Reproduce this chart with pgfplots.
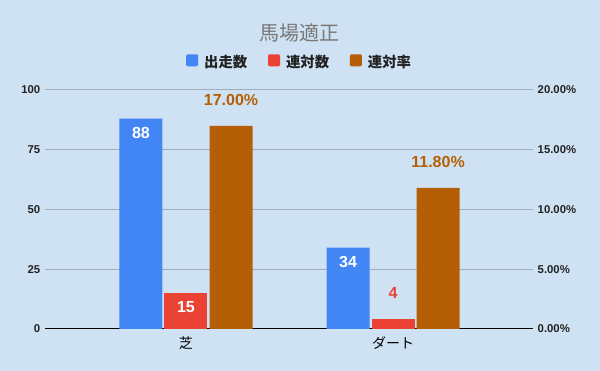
\documentclass[border=0pt]{standalone}
\usepackage{pgfplots}
\pgfplotsset{compat=1.18}
\usepackage{fontspec}
\setmainfont{Liberation Sans}
\newfontfamily\jp{Noto Sans CJK JP}
\definecolor{bg}{HTML}{CFE2F3}
\definecolor{cblue}{HTML}{4285F4}
\definecolor{cred}{HTML}{EA4335}
\definecolor{corange}{HTML}{B45F06}
\definecolor{gridc}{HTML}{A0AEBB}
\definecolor{tickc}{HTML}{222222}
\pgfplotsset{
 base/.style={
  scale only axis, width=366pt, height=179.25pt,
  xmin=-0.681, xmax=1.676,
  ybar, bar width=0.2077,
  axis line style={draw=none},
  major tick length=0pt,
  /pgf/number format/assume math mode=true,
  yticklabel style={font=\bfseries\fontsize{8.5}{10}\selectfont, text=tickc},
  clip=false,
 },
 inlab/.style={nodes near coords, every node near coord/.append style={font=\bfseries\fontsize{12}{14}\selectfont, text=white, anchor=center, yshift=-10.5pt}},
 uplab/.style={nodes near coords, every node near coord/.append style={font=\bfseries\fontsize{12}{14}\selectfont, text=#1, anchor=center, yshift=19.5pt}},
}
\begin{document}
\begin{tikzpicture}
\fill[bg] (-33.75pt,-31.5pt) rectangle (416.25pt,246.75pt);
\begin{axis}[base,
  ymin=0, ymax=100, ytick={0,25,50,75,100},
  ymajorgrids, grid style={gridc, line width=0.75pt},
  extra y ticks={0}, extra y tick labels={}, extra y tick style={grid style={black, line width=0.75pt}},
  xtick={0,1}, xticklabels={芝,ダート},
  xticklabel style={font=\jp\fontsize{10.5}{12}\selectfont, text=black, yshift=-2pt},
  title={\jp\fontsize{15}{18}\selectfont 馬場適正},
  title style={at={(0.5225,1.205)}, anchor=center, text=black!53},
  legend columns=3,
  legend style={at={(0.5225,1.117)}, anchor=center, draw=none, fill=none,
    font=\jp\bfseries\fontsize{10.8}{12}\selectfont, text=tickc,
    /tikz/every odd column/.append style={column sep=2.5pt},
    /tikz/every even column/.append style={column sep=13.5pt}},
  legend image code/.code={\fill[#1, rounded corners=1pt] (0pt,-3.2pt) rectangle (9pt,5.8pt);},
]
\addplot[fill=cblue, draw=none, bar shift=-0.2174, inlab] coordinates {(0,88) (1,34)};
\addlegendentry{出走数}
\addplot[fill=cred, draw=none, bar shift=0, inlab] coordinates {(0,15)};
\addlegendentry{連対数}
\addplot[fill=cred, draw=none, bar shift=0, forget plot, uplab=cred] coordinates {(1,4)};
\addlegendimage{fill=corange, draw=none}
\addlegendentry{連対率}
\end{axis}
\begin{axis}[base,
  ymin=0, ymax=20, ytick={0,5,10,15,20},
  yticklabel pos=right,
  yticklabel={\pgfmathprintnumber[fixed,fixed zerofill,precision=2]{\tick}\%},
  xtick=\empty,
]
\addplot[fill=corange, draw=none, bar shift=0.2174, uplab=corange,
  nodes near coords={\pgfmathprintnumber[fixed,fixed zerofill,precision=2]{\pgfplotspointmeta}\%}]
  coordinates {(0,17) (1,11.8)};
\end{axis}
\pgfresetboundingbox
\path (-33.75pt,-31.5pt) rectangle (416.25pt,246.75pt);
\end{tikzpicture}
\end{document}
